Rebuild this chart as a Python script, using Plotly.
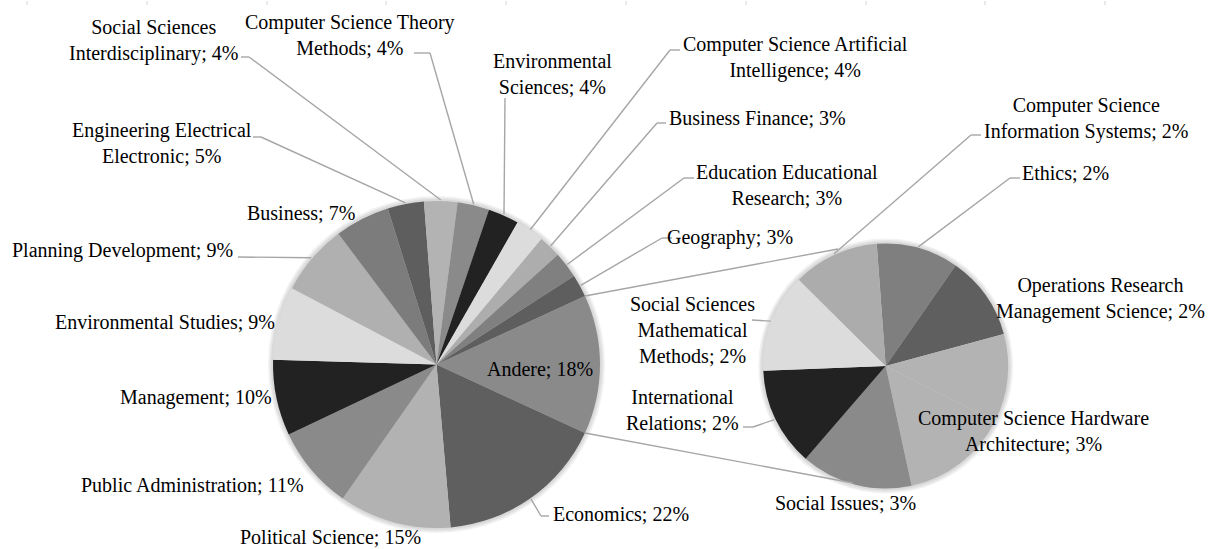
import math
import plotly.graph_objects as go

W, H = 1212, 549

# ---------------- data ----------------
main_names = ["Andere", "Economics", "Political Science", "Public Administration",
              "Management", "Environmental Studies", "Planning Development", "Business",
              "Engineering Electrical Electronic", "Social Sciences Interdisciplinary",
              "Computer Science Theory Methods", "Environmental Sciences",
              "Computer Science Artificial Intelligence", "Business Finance",
              "Education Educational Research", "Geography"]
main_values = [18.0, 21.9, 14.5, 10.8, 9.8, 9.5, 9.2, 7.1, 4.7, 4.3, 4.1, 4.0, 3.7, 2.9, 3.4, 2.9]
main_pct = [18, 22, 15, 11, 10, 9, 9, 7, 5, 4, 4, 4, 4, 3, 3, 3]

sec_names = ["Ethics", "Operations Research Management Science", "",
             "Computer Science Hardware Architecture", "Social Issues",
             "International Relations", "Social Sciences Mathematical Methods",
             "Computer Science Information Systems"]
sec_values = [1.95, 2.0, 2.1, 2.55, 2.65, 2.35, 2.35, 2.05]
sec_pct = [2, 2, None, 3, 3, 2, 2, 2]

# ---------------- style / layout ----------------
main_colors = ["#8a8a8a", "#5f5f5f", "#b2b2b2", "#8a8a8a", "#222222", "#dcdcdc",
               "#b0b0b0", "#7c7c7c", "#5e5e5e", "#b3b3b3", "#8a8a8a", "#222222",
               "#dcdcdc", "#adadad", "#808080", "#5e5e5e"]
sec_colors = ["#7f7f7f", "#5f5f5f", "#b3b3b3", "#b3b3b3", "#8a8a8a", "#222222",
              "#dcdcdc", "#acacac"]

MAIN_C, MAIN_R = (436.5, 364.5), 163.5
SEC_C, SEC_R = (885.7, 366.0), 122.5
SEC_ROT = -4.2
LINE_COL = "#a6a6a6"
FONT = dict(family="Liberation Serif, Times New Roman, serif", size=20, color="#000000")

main_rot = 90 - 180 * main_values[0] / sum(main_values)

# label specs: name -> (center x, center y, words-per-line breaks, leader points near label)
main_spec = {
    "Andere": (540, 369, [], None),
    "Economics": (621, 514, [], [(549, 516), (541, 516)]),
    "Political Science": (330, 537, [], None),
    "Public Administration": (192, 485, [], None),
    "Management": (196, 397, [], None),
    "Environmental Studies": (165, 322, [], None),
    "Planning Development": (122, 250, [], [(238, 257)]),
    "Business": (301, 213, [], None),
    "Engineering Electrical Electronic": (162, 143, [2], [(253, 137), (261, 137)]),
    "Social Sciences Interdisciplinary": (153, 40, [2], [(241, 57), (249, 57)]),
    "Computer Science Theory Methods": (350, 35, [3], [(414, 53), (430, 53)]),
    "Environmental Sciences": (552, 74, [1], [(505, 98)]),
    "Computer Science Artificial Intelligence": (795, 57, [3], [(680, 50), (670, 50)]),
    "Business Finance": (757, 118, [], [(666, 123), (657, 123)]),
    "Education Educational Research": (787, 185, [2], [(694, 178), (684, 178)]),
    "Geography": (730, 237, [], [(672, 238), (662, 238)]),
}
sec_spec = {
    "Ethics": (1065, 173, [], [(1020, 178), (1010, 178)]),
    "Operations Research Management Science": (1100, 298, [2], None),
    "Computer Science Hardware Architecture": (1033, 431, [3], None),
    "Social Issues": (845, 503, [], None),
    "International Relations": (682, 410, [1], [(743, 427), (753, 427)]),
    "Social Sciences Mathematical Methods": (692, 330, [2, 1], [(752, 320)]),
    "Computer Science Information Systems": (1086, 119, [2], [(981, 135), (971, 135)]),
}
CONNECT_END = [(838, 249), (853, 483)]
TOP_TICKS = [27, 147, 267, 386, 506, 626, 746, 866, 985, 1105]


def px(x):
    return x / W


def py(y):
    return 1 - y / H


def domain(c, r):
    return dict(x=[(c[0] - r) / W, (c[0] + r) / W], y=[1 - (c[1] + r) / H, 1 - (c[1] - r) / H])


def slice_angles(values, rot):
    tot = sum(values)
    a = rot
    out = []
    for v in values:
        span = 360 * v / tot
        out.append((a, a + span / 2, a + span))
        a += span
    return out


def on_circle(c, r, ang):
    t = math.radians(ang)
    return (c[0] + r * math.sin(t), c[1] - r * math.cos(t))


def label_text(name, pct, breaks):
    words = f"{name}; {pct}%".split(" ")
    lines, i = [], 0
    for b in breaks:
        lines.append(" ".join(words[i:i + b]))
        i += b
    lines.append(" ".join(words[i:]))
    return "<br>".join(lines)


fig = go.Figure()

# soft shadows
for c, r in [(MAIN_C, MAIN_R), (SEC_C, SEC_R)]:
    for d in (5, 3.5, 2):
        fig.add_trace(go.Pie(values=[1], labels=["s"], domain=domain(c, r + d),
                             marker=dict(colors=["rgba(0,0,0,0.05)"]), textinfo="none",
                             hoverinfo="skip", showlegend=False, sort=False))

fig.add_trace(go.Pie(values=main_values, labels=main_names, domain=domain(MAIN_C, MAIN_R),
                     marker=dict(colors=main_colors, line=dict(width=0)), sort=False,
                     direction="clockwise", rotation=main_rot, textinfo="none",
                     showlegend=False, hoverinfo="label+percent"))
fig.add_trace(go.Pie(values=sec_values, labels=[n if n else " " for n in sec_names],
                     domain=domain(SEC_C, SEC_R),
                     marker=dict(colors=sec_colors, line=dict(width=0)), sort=False,
                     direction="clockwise", rotation=SEC_ROT, textinfo="none",
                     showlegend=False, hoverinfo="label+percent"))

shapes = []
annotations = []


def add_line(p0, p1):
    shapes.append(dict(type="line", xref="paper", yref="paper", x0=px(p0[0]), y0=py(p0[1]),
                       x1=px(p1[0]), y1=py(p1[1]), line=dict(color=LINE_COL, width=1.4)))


def add_labels(names, pcts, spec, angles, c, r):
    for name, pct, ang in zip(names, pcts, angles):
        if name not in spec:
            continue
        x, y, breaks, pts = spec[name]
        annotations.append(dict(x=px(x), y=py(y), xref="paper", yref="paper",
                                text=label_text(name, pct, breaks), showarrow=False,
                                xanchor="center", yanchor="middle", align="center", font=FONT))
        if pts:
            end = on_circle(c, r + 1, ang[1])
            chain = list(pts) + [end]
            for a, b in zip(chain[:-1], chain[1:]):
                add_line(a, b)


main_ang = slice_angles(main_values, main_rot)
sec_ang = slice_angles(sec_values, SEC_ROT)
add_labels(main_names, main_pct, main_spec, main_ang, MAIN_C, MAIN_R)
add_labels(sec_names, sec_pct, sec_spec, sec_ang, SEC_C, SEC_R)

# connector lines from the "Andere" slice to the secondary pie
add_line(on_circle(MAIN_C, MAIN_R, main_ang[0][0]), CONNECT_END[0])
add_line(on_circle(MAIN_C, MAIN_R, main_ang[0][2]), CONNECT_END[1])

# faint marks at the top edge
for tx in TOP_TICKS:
    shapes.append(dict(type="line", xref="paper", yref="paper", x0=px(tx), x1=px(tx),
                       y0=py(1), y1=py(5), line=dict(color="#d4d4d4", width=1)))

fig.update_layout(width=W, height=H, margin=dict(l=0, r=0, t=0, b=0),
                  paper_bgcolor="white", plot_bgcolor="white",
                  shapes=shapes, annotations=annotations, showlegend=False)

fig.write_html("out.html", config={"displayModeBar": False},
               post_script="document.body.style.margin='0';")
